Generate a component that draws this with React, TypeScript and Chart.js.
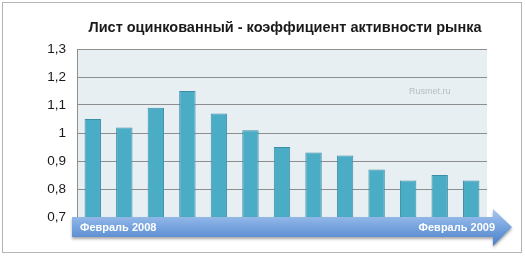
import React, { useEffect, useRef } from 'react';
import { Chart, registerables } from 'chart.js';

Chart.register(...registerables);

const chartTitle = 'Лист оцинкованный - коэффициент активности рынка';
const months = [
  'Фев 2008', 'Мар 2008', 'Апр 2008', 'Май 2008', 'Июн 2008', 'Июл 2008', 'Авг 2008',
  'Сен 2008', 'Окт 2008', 'Ноя 2008', 'Дек 2008', 'Янв 2009', 'Фев 2009',
];
const activity = [1.05, 1.02, 1.09, 1.15, 1.07, 1.01, 0.95, 0.93, 0.92, 0.87, 0.83, 0.85, 0.83];
const yTickValues = [0.7, 0.8, 0.9, 1.0, 1.1, 1.2, 1.3];
const yTickLabels = ['0,7', '0,8', '0,9', '1', '1,1', '1,2', '1,3'];
const arrowLabels = ['Февраль 2008', 'Февраль 2009'];
const watermark = 'Rusmet.ru';

const decorPlugin = {
  id: 'decor',
  beforeDraw(chart: any) {
    const { ctx, chartArea: a, width, height } = chart;
    ctx.save();
    ctx.fillStyle = '#ffffff';
    ctx.fillRect(0, 0, width, height);
    ctx.strokeStyle = '#b4b4b4';
    ctx.lineWidth = 1;
    ctx.strokeRect(2.5, 2.5, width - 6, height - 6);
    ctx.fillStyle = '#e8eff3';
    ctx.fillRect(a.left, a.top, a.right - a.left, a.bottom - a.top);
    ctx.restore();
  },
  afterDraw(chart: any) {
    const { ctx, chartArea: a } = chart;
    ctx.save();
    // arrow
    const x0 = a.left - 5;
    const top = a.bottom;
    const bot = a.bottom + 20;
    const headX = a.right + 6;
    const tipX = a.right + 25;
    const midY = (top + bot) / 2;
    ctx.beginPath();
    ctx.moveTo(x0, top);
    ctx.lineTo(headX, top);
    ctx.lineTo(headX, top - 8);
    ctx.lineTo(tipX, midY);
    ctx.lineTo(headX, bot + 9);
    ctx.lineTo(headX, bot);
    ctx.lineTo(x0, bot);
    ctx.closePath();
    const g = ctx.createLinearGradient(0, top - 8, 0, bot + 9);
    g.addColorStop(0, '#a9c8ee');
    g.addColorStop(0.45, '#7aa6e0');
    g.addColorStop(1, '#4a7fc6');
    ctx.shadowColor = 'rgba(0,0,0,0.35)';
    ctx.shadowBlur = 3;
    ctx.shadowOffsetY = 2;
    ctx.fillStyle = g;
    ctx.fill();
    ctx.shadowColor = 'transparent';
    // arrow labels
    ctx.fillStyle = '#ffffff';
    ctx.font = 'bold 11px "Liberation Sans", Arial, sans-serif';
    ctx.textBaseline = 'middle';
    ctx.textAlign = 'left';
    ctx.fillText(arrowLabels[0], x0 + 8, midY + 1);
    ctx.textAlign = 'right';
    ctx.fillText(arrowLabels[1], headX + 2, midY + 1);
    // title
    ctx.fillStyle = '#1a1a1a';
    ctx.font = 'bold 14.5px "Liberation Sans", Arial, sans-serif';
    ctx.textAlign = 'center';
    ctx.textBaseline = 'middle';
    ctx.fillText(chartTitle, (a.left + a.right) / 2 + 3, 28);
    // watermark
    ctx.fillStyle = '#b8bcc0';
    ctx.font = '9px "Liberation Sans", Arial, sans-serif';
    ctx.textAlign = 'left';
    ctx.fillText(watermark, a.right - 78, 92);
    ctx.restore();
  },
};

export default function App() {
  const ref = useRef<HTMLCanvasElement | null>(null);
  useEffect(() => {
    document.body.style.margin = '0';
    const chart = new Chart(ref.current as HTMLCanvasElement, {
      type: 'bar',
      data: {
        labels: months,
        datasets: [
          {
            data: activity,
            backgroundColor: '#4bacc6',
            borderColor: '#3b8ea8',
            borderWidth: 1,
            barPercentage: 0.52,
            categoryPercentage: 1,
          },
        ],
      },
      options: {
        responsive: false,
        animation: false,
        layout: { padding: { top: 49, bottom: 39, left: 0, right: 38 } },
        plugins: { legend: { display: false }, title: { display: false }, tooltip: { enabled: false } },
        scales: {
          x: { display: false },
          y: {
            min: 0.7,
            max: 1.3,
            afterFit: (s: any) => { s.width = 77; },
            afterBuildTicks: (s: any) => { s.ticks = yTickValues.map((v) => ({ value: v })); },
            grid: { color: '#8e8e8e', lineWidth: 1, drawTicks: false },
            border: { display: true, color: '#8e8e8e' },
            ticks: {
              padding: 11,
              color: '#1a1a1a',
              font: { family: '"Liberation Sans", Arial, sans-serif', size: 13.5 },
              callback: (v: any) => {
                const i = yTickValues.findIndex((t) => Math.abs(t - Number(v)) < 1e-6);
                return i >= 0 ? yTickLabels[i] : '';
              },
            },
          },
        },
      },
      plugins: [decorPlugin],
    });
    return () => chart.destroy();
  }, []);
  return <canvas ref={ref} width={525} height={256} style={{ display: 'block' }} />;
}
